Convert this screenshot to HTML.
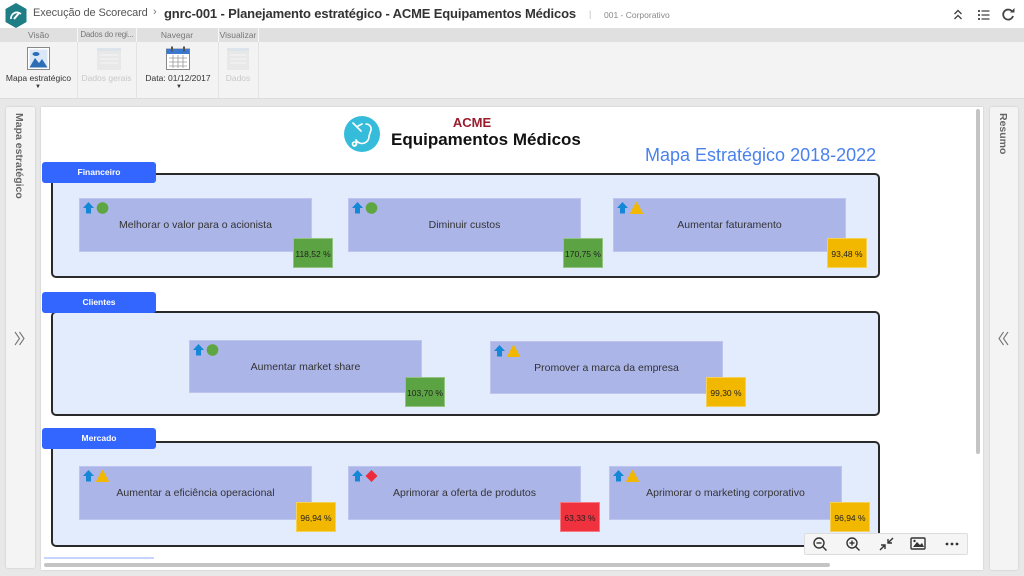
<!DOCTYPE html>
<html><head><meta charset="utf-8">
<style>
*{margin:0;padding:0;box-sizing:border-box}
body{width:1024px;height:576px;overflow:hidden;background:#e8e8e8;font-family:"Liberation Sans",Arial,sans-serif;position:relative}
.a{position:absolute}
.hdr{left:0;top:0;width:1024px;height:28px;background:#fff}
.lblrow{left:0;top:28px;width:1024px;height:14px;background:#e0e0e0}
.tbrow{left:0;top:42px;width:1024px;height:57px;background:#f3f3f3;border-bottom:1px solid #dcdcdc}
.sl{font-size:8.5px;color:#777;text-align:center;line-height:14px;top:28px;white-space:nowrap;overflow:hidden}
.sep{width:1px;background:#f7f7f7;top:28px;height:14px}
.sep2{width:1px;background:#e3e3e3;top:42px;height:57px}
.tl{font-size:8.5px;text-align:center;top:73px;line-height:10px;white-space:nowrap}
.panel{background:#f4f4f4;box-shadow:0 0 2px rgba(0,0,0,.15);border-radius:2px}
.vt{writing-mode:vertical-rl;font-size:10.5px;font-weight:bold;color:#666;white-space:nowrap}
.canvas{left:41px;top:107px;width:942px;height:463px;background:#fff;box-shadow:0 0 2px rgba(0,0,0,.15)}
.tab{background:#3366ff;border-radius:3px;color:#fff;font-size:8.5px;font-weight:bold;text-align:center;line-height:21px;height:21px;width:114px;left:42px}
.box{left:51px;width:829px;background:#e3ecfd;border:2px solid #2a2a2a;border-radius:5px}
.card{background:#abb5e8;border:1px solid #bcc4ef;width:233px;font-size:10.5px;color:#333;display:flex;align-items:center;justify-content:center}
.ic{position:absolute;left:3px;top:3px}
.bd{width:40px;height:30px;font-size:8.5px;color:#222;text-align:center;line-height:30px;border:1px solid rgba(255,255,255,.35)}
.g{background:#5ca443}.y{background:#f2b800}.r{background:#f0323f}
</style></head><body>

<!-- header -->
<div class="a hdr"></div>
<svg class="a" style="left:5px;top:3px" width="22" height="25" viewBox="0 0 22 25">
<polygon points="11,0 21.5,6 21.5,19 11,25 0.5,19 0.5,6" fill="#1f7d85"/>
<path d="M6 16 A6 6 0 0 1 16 11" stroke="#fff" stroke-width="1.8" fill="none"/>
<line x1="9" y1="16" x2="14" y2="10" stroke="#fff" stroke-width="2"/>
</svg>
<div class="a" style="left:33px;top:7px;font-size:11px;color:#555;white-space:nowrap;letter-spacing:-0.1px">Execução de Scorecard</div>
<div class="a" style="left:153px;top:6px;font-size:11px;color:#777">›</div>
<div class="a" style="left:164px;top:6px;font-size:13px;font-weight:bold;color:#333;white-space:nowrap;letter-spacing:-0.15px">gnrc-001 - Planejamento estratégico - ACME Equipamentos Médicos</div>
<div class="a" style="left:589px;top:9px;font-size:9px;color:#bbb">|</div>
<div class="a" style="left:604px;top:10px;font-size:8.5px;color:#888;white-space:nowrap">001 - Corporativo</div>
<svg class="a" style="left:953px;top:9px" width="10" height="12" viewBox="0 0 10 12"><polyline points="1.5,5 5,1.5 8.5,5" fill="none" stroke="#444" stroke-width="1.4"/><polyline points="1.5,10 5,6.5 8.5,10" fill="none" stroke="#444" stroke-width="1.4"/></svg>
<svg class="a" style="left:978px;top:9px" width="12" height="11" viewBox="0 0 12 11"><g fill="#555"><rect x="0" y="1" width="2" height="2"/><rect x="0" y="5" width="2" height="2"/><rect x="0" y="9" width="2" height="2"/><rect x="3.5" y="1.3" width="8" height="1.4"/><rect x="3.5" y="5.3" width="8" height="1.4"/><rect x="3.5" y="9.3" width="8" height="1.4"/></g></svg>
<svg class="a" style="left:1002px;top:8px" width="13" height="13" viewBox="0 0 13 13"><path d="M10.5 4 A5 5 0 1 0 11 8" fill="none" stroke="#444" stroke-width="1.8"/><polygon points="8,4.5 12.5,4.5 12.5,0" fill="#444"/></svg>

<!-- toolbar -->
<div class="a lblrow"></div>
<div class="a tbrow"></div>
<div class="a sl" style="left:0;width:77px">Visão</div>
<div class="a sl" style="left:78px;width:58px;font-size:8px;letter-spacing:-0.2px">Dados do regi...</div>
<div class="a sl" style="left:136px;width:82px">Navegar</div>
<div class="a sl" style="left:218px;width:40px">Visualizar</div>
<div class="a sep" style="left:77px"></div><div class="a sep" style="left:136px"></div><div class="a sep" style="left:218px"></div><div class="a sep" style="left:258px"></div>
<div class="a sep2" style="left:77px"></div><div class="a sep2" style="left:136px"></div><div class="a sep2" style="left:218px"></div><div class="a sep2" style="left:258px"></div>

<svg class="a" style="left:27px;top:47px" width="23" height="23" viewBox="0 0 23 23">
<rect x="0.5" y="0.5" width="22" height="22" fill="#fff" stroke="#888"/>
<rect x="2.5" y="2.5" width="18" height="18" fill="#dbe7f6"/>
<polygon points="2.5,20.5 8,11 12,16 15,12 20.5,20.5" fill="#2c6db5"/>
<ellipse cx="9" cy="7" rx="3.5" ry="2" fill="#2c6db5"/>
</svg>
<div class="a tl" style="left:0;width:77px;color:#333">Mapa estratégico</div>
<div class="a" style="left:35px;top:84px;font-size:6px;color:#333">▼</div>

<svg class="a" style="left:97px;top:48px" width="24" height="22" viewBox="0 0 24 22">
<rect x="0" y="0" width="24" height="22" fill="#e8e8e8"/><rect x="0" y="0" width="24" height="3" fill="#dde4ec"/>
<g stroke="#f6f6f6" stroke-width="1"><line x1="3" y1="7" x2="21" y2="7"/><line x1="3" y1="11" x2="21" y2="11"/><line x1="3" y1="15" x2="21" y2="15"/></g></svg>
<div class="a tl" style="left:77px;width:59px;color:#c8c8c8">Dados gerais</div>

<svg class="a" style="left:166px;top:46px" width="24" height="24" viewBox="0 0 24 24">
<rect x="0.5" y="3" width="23" height="20.5" fill="#fff" stroke="#888"/>
<rect x="0.5" y="3" width="23" height="5" fill="#3a78d0"/>
<rect x="5" y="0.5" width="2" height="5" fill="#555"/><rect x="17" y="0.5" width="2" height="5" fill="#555"/>
<g stroke="#999" stroke-width="0.8"><line x1="3" y1="12" x2="21" y2="12"/><line x1="3" y1="16" x2="21" y2="16"/><line x1="3" y1="20" x2="21" y2="20"/><line x1="7" y1="9" x2="7" y2="22"/><line x1="12" y1="9" x2="12" y2="22"/><line x1="17" y1="9" x2="17" y2="22"/></g></svg>
<div class="a tl" style="left:136px;width:84px;color:#333">Data: 01/12/2017</div>
<div class="a" style="left:176px;top:84px;font-size:6px;color:#333">▼</div>

<svg class="a" style="left:227px;top:48px" width="22" height="22" viewBox="0 0 22 22">
<rect x="0" y="0" width="22" height="22" fill="#e8e8e8"/><rect x="0" y="0" width="22" height="3" fill="#dde4ec"/>
<g stroke="#f6f6f6"><line x1="3" y1="7" x2="19" y2="7"/><line x1="3" y1="11" x2="19" y2="11"/><line x1="3" y1="15" x2="19" y2="15"/></g></svg>
<div class="a tl" style="left:218px;width:40px;color:#c8c8c8">Dados</div>

<!-- side panels -->
<div class="a panel" style="left:6px;top:107px;width:29px;height:461px"></div>
<div class="a vt" style="left:13px;top:113px">Mapa estratégico</div>
<svg class="a" style="left:14px;top:331px" width="12" height="15" viewBox="0 0 12 15"><polyline points="1,1 5.5,7.5 1,14" fill="none" stroke="#777" stroke-width="1.1"/><polyline points="5.5,1 10,7.5 5.5,14" fill="none" stroke="#777" stroke-width="1.1"/></svg>

<div class="a panel" style="left:990px;top:107px;width:28px;height:463px"></div>
<div class="a vt" style="left:997px;top:113px">Resumo</div>
<svg class="a" style="left:997px;top:331px" width="12" height="15" viewBox="0 0 12 15"><polyline points="6.5,1 2,7.5 6.5,14" fill="none" stroke="#777" stroke-width="1.1"/><polyline points="11,1 6.5,7.5 11,14" fill="none" stroke="#777" stroke-width="1.1"/></svg>

<!-- canvas -->
<div class="a canvas"></div>
<div class="a" style="left:976px;top:109px;width:4px;height:345px;background:#c4c4c4;border-radius:2px"></div>
<div class="a" style="left:44px;top:563px;width:786px;height:4px;background:#c4c4c4;border-radius:2px"></div>
<div class="a" style="left:44px;top:557px;width:110px;height:2px;background:#c5d5ff"></div>

<!-- title -->
<svg class="a" style="left:344px;top:116px" width="36" height="36" viewBox="0 0 36 36">
<circle cx="18" cy="18" r="18" fill="#36bcdb"/>
<g fill="none" stroke="#fff" stroke-width="1.6" stroke-linecap="round">
<path d="M22 8 A5 5 0 0 1 27 14 L25 20 A7 7 0 0 1 12 24"/>
<path d="M12 24 A4 4 0 0 1 10 30"/>
<circle cx="10.5" cy="28" r="2"/>
<line x1="9" y1="7" x2="17" y2="15"/>
<line x1="14" y1="10" x2="18" y2="8"/>
</g></svg>
<div class="a" style="left:420px;top:115px;width:104px;text-align:center;font-size:13px;font-weight:bold;color:#9b1c2c">ACME</div>
<div class="a" style="left:391px;top:130px;font-size:17px;font-weight:bold;color:#111;white-space:nowrap">Equipamentos Médicos</div>
<div class="a" style="left:645px;top:145px;font-size:18px;color:#4a82ec;white-space:nowrap">Mapa Estratégico 2018-2022</div>

<!-- Financeiro -->
<div class="a box" style="top:173px;height:105px"></div>
<div class="a tab" style="top:162px">Financeiro</div>

<div class="a card" style="left:79px;top:198px;height:54px"><svg class="ic" width="26" height="12"><polygon points="5.5,0 11,6 8,6 8,11.5 3,11.5 3,6 0,6" fill="#1487d6"/><circle cx="19.5" cy="6" r="5.8" fill="#5ea641"/></svg>Melhorar o valor para o acionista</div>
<div class="a bd g" style="left:293px;top:238px">118,52 %</div>
<div class="a card" style="left:348px;top:198px;height:54px"><svg class="ic" width="26" height="12"><polygon points="5.5,0 11,6 8,6 8,11.5 3,11.5 3,6 0,6" fill="#1487d6"/><circle cx="19.5" cy="6" r="5.8" fill="#5ea641"/></svg>Diminuir custos</div>
<div class="a bd g" style="left:563px;top:238px">170,75 %</div>
<div class="a card" style="left:613px;top:198px;height:54px"><svg class="ic" width="26" height="12"><polygon points="5.5,0 11,6 8,6 8,11.5 3,11.5 3,6 0,6" fill="#1487d6"/><polygon points="19.5,0.3 25.5,11.5 13.5,11.5" fill="#f2b800" stroke="#f2b800" stroke-linejoin="round"/></svg>Aumentar faturamento</div>
<div class="a bd y" style="left:827px;top:238px">93,48 %</div>

<!-- Clientes -->
<div class="a box" style="top:311px;height:105px"></div>
<div class="a tab" style="top:292px">Clientes</div>

<div class="a card" style="left:189px;top:340px;height:53px"><svg class="ic" width="26" height="12"><polygon points="5.5,0 11,6 8,6 8,11.5 3,11.5 3,6 0,6" fill="#1487d6"/><circle cx="19.5" cy="6" r="5.8" fill="#5ea641"/></svg>Aumentar market share</div>
<div class="a bd g" style="left:405px;top:377px">103,70 %</div>
<div class="a card" style="left:490px;top:341px;height:53px"><svg class="ic" width="26" height="12"><polygon points="5.5,0 11,6 8,6 8,11.5 3,11.5 3,6 0,6" fill="#1487d6"/><polygon points="19.5,0.3 25.5,11.5 13.5,11.5" fill="#f2b800" stroke="#f2b800" stroke-linejoin="round"/></svg>Promover a marca da empresa</div>
<div class="a bd y" style="left:706px;top:377px">99,30 %</div>

<!-- Mercado -->
<div class="a box" style="top:441px;height:106px"></div>
<div class="a tab" style="top:428px">Mercado</div>

<div class="a card" style="left:79px;top:466px;height:54px"><svg class="ic" width="26" height="12"><polygon points="5.5,0 11,6 8,6 8,11.5 3,11.5 3,6 0,6" fill="#1487d6"/><polygon points="19.5,0.3 25.5,11.5 13.5,11.5" fill="#f2b800" stroke="#f2b800" stroke-linejoin="round"/></svg>Aumentar a eficiência operacional</div>
<div class="a bd y" style="left:296px;top:502px">96,94 %</div>
<div class="a card" style="left:348px;top:466px;height:54px"><svg class="ic" width="26" height="12"><polygon points="5.5,0 11,6 8,6 8,11.5 3,11.5 3,6 0,6" fill="#1487d6"/><polygon points="19.5,0 25.5,6 19.5,12 13.5,6" fill="#ee2b3b"/></svg>Aprimorar a oferta de produtos</div>
<div class="a bd r" style="left:560px;top:502px">63,33 %</div>
<div class="a card" style="left:609px;top:466px;height:54px"><svg class="ic" width="26" height="12"><polygon points="5.5,0 11,6 8,6 8,11.5 3,11.5 3,6 0,6" fill="#1487d6"/><polygon points="19.5,0.3 25.5,11.5 13.5,11.5" fill="#f2b800" stroke="#f2b800" stroke-linejoin="round"/></svg>Aprimorar o marketing corporativo</div>
<div class="a bd y" style="left:830px;top:502px">96,94 %</div>

<!-- zoom controls -->
<div class="a" style="left:804px;top:533px;width:164px;height:22px;background:#f5f5f5;border:1px solid #ddd;border-radius:2px"></div>
<svg class="a" style="left:812px;top:536px" width="150" height="16" viewBox="0 0 150 16">
<g fill="none" stroke="#333" stroke-width="1.4">
<circle cx="7" cy="7" r="5"/><line x1="10.5" y1="10.5" x2="14.5" y2="14.5"/><line x1="4.5" y1="7" x2="9.5" y2="7"/>
<circle cx="40" cy="7" r="5"/><line x1="43.5" y1="10.5" x2="47.5" y2="14.5"/><line x1="37.5" y1="7" x2="42.5" y2="7"/><line x1="40" y1="4.5" x2="40" y2="9.5"/>
<line x1="68" y1="14" x2="73" y2="9"/><polyline points="69,9 73,9 73,13"/>
<line x1="81" y1="2" x2="76" y2="7"/><polyline points="80,7 76,7 76,3"/>
<rect x="99" y="2" width="14" height="11" rx="1"/>
</g>
<polygon points="101,11 105,6 108,9 110,7 112,11" fill="#333"/><circle cx="102.5" cy="5" r="1.2" fill="#333"/>
<circle cx="135" cy="8" r="1.4" fill="#333"/><circle cx="140" cy="8" r="1.4" fill="#333"/><circle cx="145" cy="8" r="1.4" fill="#333"/>
</svg>

</body></html>
